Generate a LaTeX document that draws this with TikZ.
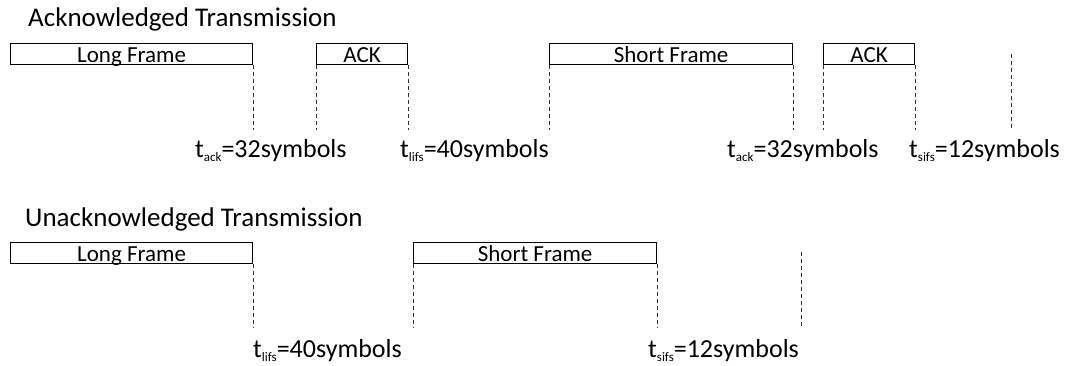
\documentclass[tikz,border=0pt]{standalone}
\usepackage{fontspec}
\setmainfont{Carlito}
\newcommand{\tsub}[1]{t\raisebox{-0.18em}{\fontsize{13}{13}\selectfont #1}}
\begin{document}
\begin{tikzpicture}[x=1pt,y=-1pt,
  frame/.style={draw=black, line width=1.2pt, anchor=north west, inner sep=0pt,
    minimum height=21pt, text height=16pt, text depth=0pt,
    font=\fontsize{23}{23}\selectfont},
  guide/.style={draw=black!80, line width=0.9pt, dash pattern=on 4pt off 3pt},
  heading/.style={anchor=base west, inner sep=0pt, font=\fontsize{27}{27}\selectfont},
  timing/.style={anchor=base west, inner sep=0pt, font=\fontsize{26}{26}\selectfont}]
\useasboundingbox (0,0) rectangle (1070,365);
% ---------- Acknowledged ----------
\node[heading] (h1) at (28,26.5) {Acknowledged Transmission};
\node[frame, minimum width=242pt] (lf1) at (10,43) {Long Frame};
\node[frame, minimum width=91pt] (ack1) at (316,43) {ACK};
\node[frame, minimum width=243pt] (sf1) at (549,43) {Short Frame};
\node[frame, minimum width=91pt] (ack2) at (823,43) {ACK};
\coordinate (e1) at (1011,54);
\coordinate (b1) at (0,130);
\draw[guide] (lf1.south east) -- (lf1.south east |- b1);
\draw[guide] (ack1.south west) -- (ack1.south west |- b1);
\draw[guide] (ack1.south east) -- (ack1.south east |- b1);
\draw[guide] (sf1.south west) -- (sf1.south west |- b1);
\draw[guide] (sf1.south east) -- (sf1.south east |- b1);
\draw[guide] (ack2.south west) -- (ack2.south west |- b1);
\draw[guide] (ack2.south east) -- (ack2.south east |- b1);
\draw[guide] (e1) -- (e1 |- b1);
\node[timing] (l1) at (195,157) {\tsub{ack}=32symbols};
\node[timing] (l2) at (400,157) {\tsub{lifs}=40symbols};
\node[timing] (l3) at (727,157) {\tsub{ack}=32symbols};
\node[timing] (l4) at (909,157) {\tsub{sifs}=12symbols};
% ---------- Unacknowledged ----------
\node[heading] (h2) at (25,226) {Unacknowledged Transmission};
\node[frame, minimum width=242pt] (lf2) at (10,242) {Long Frame};
\node[frame, minimum width=243pt] (sf2) at (413,242) {Short Frame};
\coordinate (e2) at (801,252);
\coordinate (b2) at (0,328);
\draw[guide] (lf2.south east) -- (lf2.south east |- b2);
\draw[guide] (sf2.south west) -- (sf2.south west |- b2);
\draw[guide] (sf2.south east) -- (sf2.south east |- b2);
\draw[guide] (e2) -- (e2 |- b2);
\node[timing] (l5) at (253,357) {\tsub{lifs}=40symbols};
\node[timing] (l6) at (648,357) {\tsub{sifs}=12symbols};
\end{tikzpicture}
\end{document}
